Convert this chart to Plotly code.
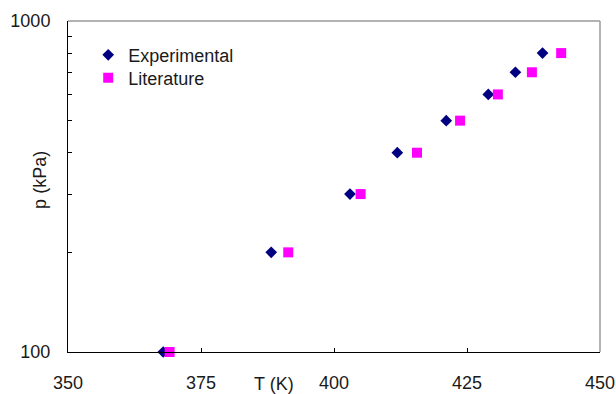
import plotly.graph_objects as go

# Vapour pressure data: temperature (K) vs pressure (kPa)
exp_T = [367.9, 388.2, 403.0, 411.9, 421.1, 429.0, 434.1, 439.2]
exp_p = [100, 200, 300, 400, 500, 600, 700, 800]

lit_T = [369.1, 391.4, 405.0, 415.6, 423.7, 430.8, 437.2, 442.7]
lit_p = [100, 200, 300, 400, 500, 600, 700, 800]

x_ticks = [350, 375, 400, 425, 450]
y_ticks = [100, 200, 300, 400, 500, 600, 700, 800, 900, 1000]
y_ticktext = ["100", "", "", "", "", "", "", "", "", "1000"]

FONT = "Liberation Sans, Arial, sans-serif"
TEXT = "#1a1a1a"

fig = go.Figure()
fig.add_trace(go.Scatter(
    x=exp_T, y=exp_p, mode="markers", name="Experimental", legend="legend",
    marker=dict(symbol="diamond", size=9, color="#000080"), cliponaxis=False,
))
fig.add_trace(go.Scatter(
    x=lit_T, y=lit_p, mode="markers", name="Literature", legend="legend2",
    marker=dict(symbol="square", size=10, color="#ff00ff"), cliponaxis=False,
))

legend_style = dict(
    xanchor="left", yanchor="middle", bgcolor="rgba(0,0,0,0)",
    font=dict(size=18, color=TEXT), itemwidth=30, borderwidth=0,
)

fig.update_layout(
    width=616, height=394,
    margin=dict(l=68, r=16, t=21, b=42, autoexpand=False),
    paper_bgcolor="white", plot_bgcolor="white",
    font=dict(family=FONT, size=18, color=TEXT),
    showlegend=True,
    legend=dict(x=0.038, y=0.897, **legend_style),
    legend2=dict(x=0.038, y=0.828, **legend_style),
    xaxis=dict(
        range=[350, 450], tickvals=x_ticks, ticks="inside", ticklen=4,
        tickcolor="#000", showline=True, linecolor="#000", linewidth=1,
        showgrid=False, zeroline=False, mirror=False, automargin=False,
        tickfont=dict(size=18, color=TEXT), ticklabelstandoff=14,
    ),
    yaxis=dict(
        type="log", range=[2, 3], tickvals=y_ticks, ticktext=y_ticktext,
        ticks="inside", ticklen=4, tickcolor="#000",
        showline=True, linecolor="#000", linewidth=1,
        showgrid=False, zeroline=False, mirror=False, automargin=False,
        tickfont=dict(size=18, color=TEXT), ticklabelstandoff=13,
    ),
)

# Grey frame on the top and right sides of the plotting area
fig.add_shape(type="line", xref="paper", yref="paper", x0=0, x1=1, y0=1, y1=1,
              line=dict(color="#9a9a9a", width=1.5))
fig.add_shape(type="line", xref="paper", yref="paper", x0=1, x1=1, y0=0, y1=1,
              line=dict(color="#9a9a9a", width=1.5))

# Y axis title, rotated, left of the plotting area
fig.add_annotation(text="p (kPa)", x=0, xref="paper", y=0.52, yref="paper",
                   xanchor="center", yanchor="middle", xshift=-28,
                   textangle=-90, showarrow=False,
                   font=dict(size=18, color=TEXT))

# X axis title sits on the tick-label row, between 375 and 400
fig.add_annotation(text="T (K)", x=388.8, xref="x", y=0, yref="paper",
                   yanchor="top", yshift=-20, showarrow=False,
                   font=dict(size=18, color=TEXT))

fig.write_html("out.html")
